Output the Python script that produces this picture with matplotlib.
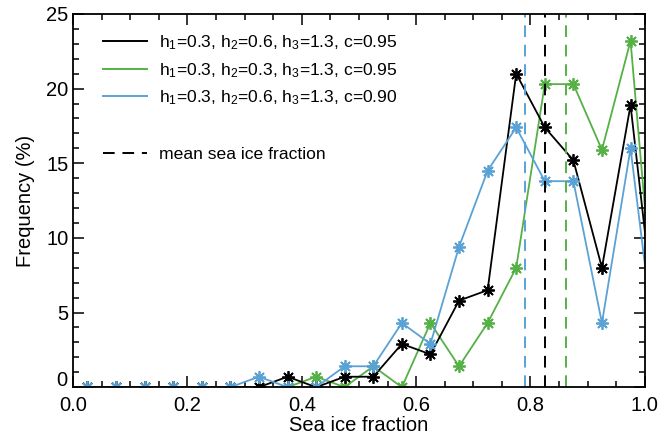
import numpy as np
import matplotlib
matplotlib.use("Agg")
import matplotlib.pyplot as plt
from matplotlib.lines import Line2D
from matplotlib.ticker import MultipleLocator, FormatStrFormatter, FuncFormatter

plt.rcParams["font.family"] = ["Liberation Sans", "DejaVu Sans"]
plt.rcParams["mathtext.fontset"] = "custom"
plt.rcParams["mathtext.rm"] = "Liberation Sans"
plt.rcParams["mathtext.it"] = "Liberation Sans:italic"
plt.rcParams["mathtext.bf"] = "Liberation Sans:bold"

# bin centres (last one lies just outside the axis)
bins = [0.025, 0.075, 0.125, 0.175, 0.225, 0.275, 0.325, 0.375, 0.425, 0.475,
        0.525, 0.575, 0.625, 0.675, 0.725, 0.775, 0.825, 0.875, 0.925, 0.975, 1.025]

freq_black = [0, 0, 0, 0, 0, 0, 0, 0.7, 0, 0.7,
              0.7, 2.9, 2.2, 5.8, 6.5, 21.0, 17.4, 15.2, 8.0, 18.9, 2.0]
freq_green = [0, 0, 0, 0, 0, 0, 0, 0, 0.7, 0,
              1.4, 0, 4.3, 1.4, 4.3, 8.0, 20.3, 20.3, 15.9, 23.2, 1.0]
freq_blue = [0, 0, 0, 0, 0, 0, 0.7, 0, 0, 1.4,
             1.4, 4.3, 2.9, 9.4, 14.5, 17.4, 13.8, 13.8, 4.3, 16.0, 0.5]

mean_black = 0.825
mean_green = 0.862
mean_blue = 0.791

labels = [
    r"h$_\mathrm{1}$=0.3, h$_\mathrm{2}$=0.6, h$_\mathrm{3}$=1.3, c=0.95",
    r"h$_\mathrm{1}$=0.3, h$_\mathrm{2}$=0.3, h$_\mathrm{3}$=1.3, c=0.95",
    r"h$_\mathrm{1}$=0.3, h$_\mathrm{2}$=0.6, h$_\mathrm{3}$=1.3, c=0.90",
]

BLACK = "black"
GREEN = "#55b146"
BLUE = "#5aa2d6"

fig = plt.figure(figsize=(6.71, 4.37), dpi=100)
ax = fig.add_axes([0.109, 0.114, 0.852, 0.854])

star = (8, 2, 0)
for y, c in [(freq_green, GREEN), (freq_black, BLACK), (freq_blue, BLUE)]:
    ax.plot(bins, y, color=c, lw=1.3, marker=star, ms=9, mew=1.3)

for m, c in [(mean_blue, BLUE), (mean_black, BLACK), (mean_green, GREEN)]:
    ax.axvline(m, color=c, lw=1.4, ls=(0, (6, 4)))

ax.set_xlim(0, 1)
ax.set_ylim(0, 25)
ax.xaxis.set_major_locator(MultipleLocator(0.2))
ax.xaxis.set_minor_locator(MultipleLocator(0.05))
ax.yaxis.set_major_locator(MultipleLocator(5))
ax.yaxis.set_minor_locator(MultipleLocator(1))
ax.xaxis.set_major_formatter(FormatStrFormatter("%.1f"))
# the "0" is drawn separately, a little above the axis corner
ax.yaxis.set_major_formatter(FuncFormatter(lambda v, p: "" if v == 0 else f"{v:g}"))
ax.tick_params(which="both", direction="in", top=True, right=True, labelsize=14.5, width=1.1)
ax.tick_params(which="major", length=8)
ax.tick_params(which="minor", length=4)
ax.tick_params(axis="x", which="major", pad=6)
ax.tick_params(axis="y", which="major", pad=3.5)
for s in ax.spines.values():
    s.set_linewidth(1.3)

ax.annotate("0", xy=(0, 0), xycoords="axes fraction", xytext=(-4.5, 5),
            textcoords="offset points", ha="right", va="center", fontsize=14.5)

ax.set_xlabel("Sea ice fraction", fontsize=14.5, labelpad=1)
ax.set_ylabel("Frequency (%)", fontsize=14.5, labelpad=8)

line_handles = [
    Line2D([0], [0], color=BLACK, lw=1.4),
    Line2D([0], [0], color=GREEN, lw=1.4),
    Line2D([0], [0], color=BLUE, lw=1.4),
]
leg1 = ax.legend(line_handles, labels, loc="upper left",
                 bbox_to_anchor=(0.025, 0.99), frameon=False, fontsize=12.6,
                 handlelength=2.5, handletextpad=0.7, labelspacing=0.5)
ax.add_artist(leg1)

mean_handle = [Line2D([0], [0], color=BLACK, lw=1.4, ls=(0, (6, 4)))]
ax.legend(mean_handle, ["mean sea ice fraction"], loc="upper left",
          bbox_to_anchor=(0.025, 0.686), frameon=False, fontsize=12.6,
          handlelength=2.5, handletextpad=0.7)

fig.savefig("out.png", dpi=100)
